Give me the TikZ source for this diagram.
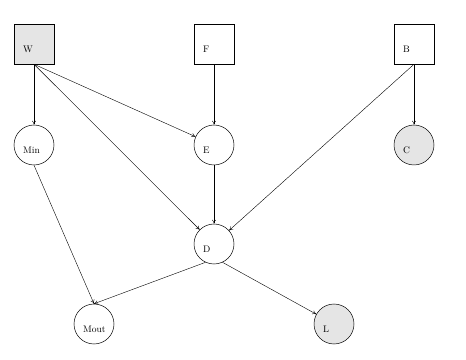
\documentclass[tikz,border=0pt]{standalone}
\usetikzlibrary{arrows.meta}
\begin{document}
\begin{tikzpicture}[x=1pt,y=1pt,
  box/.style={draw,line width=0.5pt,minimum size=40pt,inner sep=0pt},
  circ/.style={draw,line width=0.5pt,circle,minimum size=40pt,inner sep=0pt},
  obs/.style={fill=black!10},
  lab/.style={anchor=base west,inner sep=0pt,font=\fontsize{9.5}{10}\selectfont},
  edge/.style={-{To[length=4pt,width=4pt]},line width=0.4pt}]
\useasboundingbox (0,0) rectangle (466,359);
\node[box,obs] (W) at (34,315) {};
\node[box] (F) at (214,315) {};
\node[box] (B) at (414,315) {};
\node[circ] (Min) at (34,214) {};
\node[circ] (E) at (214,214) {};
\node[circ,obs] (C) at (414,214) {};
\node[circ] (D) at (214,115) {};
\node[circ] (Mout) at (94,35) {};
\node[circ,obs] (L) at (334,35) {};
\foreach \n/\t in {W/W,F/F,B/B,Min/Min,E/E,C/C,D/D,Mout/Mout,L/L}
  \node[lab] (\n-lab) at ([shift={(-11,-8.5)}]\n.center) {\t};
\draw[edge] (W.south) -- (Min.north);
\draw[edge] (W.south) -- (E);
\draw[edge] (W.south) -- (D);
\draw[edge] (F.south) -- (E.north);
\draw[edge] (B.south) -- (C.north);
\draw[edge] (B.south) -- (D);
\draw[edge] (E.south) -- (D.north);
\draw[edge] (Min.south) -- (Mout.north);
\draw[edge] (D.-115) -- (Mout.north);
\draw[edge] (D.-65) -- (L);
\end{tikzpicture}
\end{document}
